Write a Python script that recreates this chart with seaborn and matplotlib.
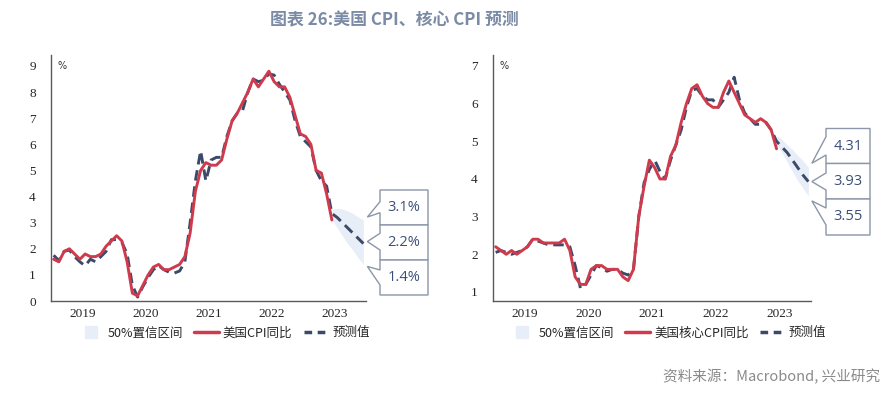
import numpy as np
import pandas as pd
import matplotlib
matplotlib.use("Agg")
import matplotlib.pyplot as plt
import seaborn as sns
from matplotlib.patches import Polygon
from matplotlib.lines import Line2D
from matplotlib.transforms import IdentityTransform

# ---------------- data (monthly, Jan 2019 ...) ----------------
cpi_actual = [1.6, 1.5, 1.9, 2.0, 1.8, 1.6, 1.8, 1.7, 1.7, 1.8, 2.1, 2.3,
              2.5, 2.3, 1.5, 0.3, 0.2, 0.6, 1.0, 1.3, 1.4, 1.2, 1.2, 1.3,
              1.4, 1.7, 2.6, 4.2, 5.0, 5.3, 5.2, 5.2, 5.4, 6.2, 6.9, 7.2,
              7.6, 8.0, 8.5, 8.2, 8.5, 8.8, 8.4, 8.2, 8.2, 7.8, 7.1, 6.4,
              6.3, 6.0, 5.0, 4.9, 4.1, 3.1]
cpi_forecast = [1.75, 1.55, 1.9, 1.95, 1.7, 1.5, 1.35, 1.6, 1.5, 1.7, 1.9, 2.35,
                2.35, 2.25, 1.8, 0.6, 0.15, 0.55, 0.9, 1.2, 1.35, 1.2, 1.1, 1.07,
                1.15, 1.5, 3.0, 4.6, 5.75, 4.6, 5.4, 5.5, 5.5, 6.3, 6.9, 7.2,
                7.3, 8.0, 8.5, 8.4, 8.45, 8.7, 8.65, 8.3, 8.0, 7.7, 6.9, 6.3,
                6.1, 5.9, 5.0, 4.6, 4.4, 3.35,
                3.2, 3.0, 2.8, 2.6, 2.4, 2.2]
cpi_band_upper = [3.5, 3.55, 3.52, 3.45, 3.35, 3.22, 3.1]   # Jun-Dec 2023
cpi_band_lower = [3.1, 2.8, 2.5, 2.2, 1.95, 1.65, 1.4]
cpi_labels = ["3.1%", "2.2%", "1.4%"]
cpi_label_vals = [3.1, 2.2, 1.4]

core_actual = [2.2, 2.1, 2.0, 2.1, 2.0, 2.1, 2.2, 2.4, 2.4, 2.3, 2.3, 2.3,
               2.3, 2.4, 2.1, 1.4, 1.2, 1.2, 1.6, 1.7, 1.7, 1.6, 1.6, 1.6,
               1.4, 1.3, 1.6, 3.0, 3.8, 4.5, 4.3, 4.0, 4.0, 4.6, 4.9, 5.5,
               6.0, 6.4, 6.5, 6.2, 6.0, 5.9, 5.9, 6.3, 6.6, 6.3, 6.0, 5.7,
               5.6, 5.5, 5.6, 5.5, 5.3, 4.8]
core_forecast = [2.05, 2.1, 2.05, 2.0, 2.05, 2.1, 2.2, 2.4, 2.35, 2.3, 2.25, 2.25,
                 2.25, 2.25, 2.2, 1.7, 1.1, 1.2, 1.45, 1.7, 1.65, 1.55, 1.6, 1.6,
                 1.5, 1.45, 1.6, 3.0, 3.9, 4.25, 4.5, 4.2, 4.0, 4.5, 4.9, 5.3,
                 5.9, 6.35, 6.4, 6.2, 6.1, 6.1, 5.9, 6.1, 6.3, 6.7, 6.1, 5.75,
                 5.6, 5.45, 5.45, 5.5, 5.3, 5.0,
                 4.85, 4.7, 4.5, 4.3, 4.1, 3.93]
core_band_upper = [5.15, 5.05, 4.9, 4.78, 4.62, 4.48, 4.31]
core_band_lower = [4.9, 4.7, 4.45, 4.2, 3.95, 3.75, 3.55]
core_labels = ["4.31", "3.93", "3.55"]
core_label_vals = [4.31, 3.93, 3.55]

year_labels = ["2019", "2020", "2021", "2022", "2023"]

# ---------------- style ----------------
sns.set_style("white")
plt.rcParams['font.family'] = ['Noto Sans CJK SC', 'DejaVu Sans']
plt.rcParams['axes.unicode_minus'] = False

RED = "#cf3b4c"
NAVY = "#3c4a6a"
BAND = "#e8eef7"
BOXEDGE = "#8c96a8"
BOXTEXT = "#3a4f78"
SPINE = "#5a5a5a"

W, H = 892, 393
fig = plt.figure(figsize=(W / 100, H / 100), dpi=100)


def month_pos(n):
    periods = pd.period_range("2019-01", periods=n, freq="M")
    return periods.year + (periods.month - 0.5) / 12.0


def px_axes(x0, y0, x1, y1):
    return fig.add_axes([x0 / W, 1 - y1 / H, (x1 - x0) / W, (y1 - y0) / H])


def draw_panel(ax, actual, forecast, up, lo, ylim, yticks, actual_label):
    xa = month_pos(len(actual))
    xf = month_pos(len(forecast))
    xb = xf[len(forecast) - len(up):]
    df_a = pd.DataFrame({"x": xa, "v": actual})
    df_f = pd.DataFrame({"x": xf, "v": forecast})
    ax.fill_between(xb, lo, up, color=BAND, lw=0, zorder=1)
    sns.lineplot(data=df_f, x="x", y="v", ax=ax, color=NAVY, lw=2.1,
                 dashes=False, zorder=2).lines[-1].set_dashes((3.6, 2.0))
    sns.lineplot(data=df_a, x="x", y="v", ax=ax, color=RED, lw=2.1, zorder=3)
    ax.set_xlim(2019, 2024)
    ax.set_ylim(*ylim)
    ax.set_yticks(yticks)
    ax.set_yticklabels([str(t) for t in yticks], family="Liberation Serif", fontsize=9.5)
    ax.set_xticks(np.arange(2019, 2025))
    ax.set_xticklabels([])
    ax.set_xticks(np.arange(2019, 2024) + 0.5, minor=True)
    ax.set_xticklabels(year_labels, minor=True, family="Liberation Serif", fontsize=9.5)
    ax.tick_params(axis="x", which="major", direction="out", length=5, width=1, color=SPINE)
    ax.tick_params(axis="x", which="minor", length=0, pad=5)
    ax.tick_params(axis="y", direction="out", length=3, width=1, color=SPINE, pad=8)
    ax.set_xlabel("")
    ax.set_ylabel("")
    for s in ["top", "right"]:
        ax.spines[s].set_visible(False)
    for s in ["left", "bottom"]:
        ax.spines[s].set_color(SPINE)
        ax.spines[s].set_linewidth(1)
    ax.text(0.022, 0.955, "%", transform=ax.transAxes, fontsize=7, va="center",
            ha="left", family="DejaVu Sans", color="#333333")
    handles = [Line2D([], [], marker="s", markersize=9, color=BAND, linestyle="none"),
               Line2D([], [], color=RED, lw=2.5),
               Line2D([], [], color=NAVY, lw=2.5, dashes=(2.2, 1.6))]
    ax.legend(handles, ["50%置信区间", actual_label, "预测值"], ncol=3, frameon=False,
              loc="center", bbox_to_anchor=(0.55, -0.13),
              handlelength=2.0, handletextpad=0.3, columnspacing=0.9,
              prop={"family": ["Noto Sans CJK SC", "DejaVu Sans"], "size": 9})
    return xf[-1]


def callouts(ax, x_end, vals, labels, L, R, boxes, offsets):
    for val, lab, (T, B, a, b), (dx, dy) in zip(vals, labels, boxes, offsets):
        dxp, dyp = ax.transData.transform((x_end, val))
        tip = (dxp + dx, dyp - dy)
        pts = [(L, T), (R, T), (R, B), (L, B), (L, b)]
        pts = [(px, H - py) for px, py in pts]
        pts += [tip, (L, H - a), (L, H - T)]
        fig.add_artist(Polygon(pts, closed=True, facecolor="white", edgecolor=BOXEDGE,
                               lw=1.0, transform=IdentityTransform(), zorder=5))
        fig.text((L + R) / 2 / W, 1 - (T + B) / 2 / H, lab, ha="center", va="center",
                 fontsize=10.5, color=BOXTEXT, family="Open Sans", zorder=6)


ax1 = px_axes(51, 55, 366, 301)
ax2 = px_axes(493, 55, 811, 301)

xe1 = draw_panel(ax1, cpi_actual, cpi_forecast, cpi_band_upper, cpi_band_lower,
                 (0, 9.42), list(range(0, 10)), "美国CPI同比")
xe2 = draw_panel(ax2, core_actual, core_forecast, core_band_upper, core_band_lower,
                 (0.76, 7.29), list(range(1, 8)), "美国核心CPI同比")

callouts(ax1, xe1, cpi_label_vals, cpi_labels, 380, 428,
         [(190, 225, 201.7, 212.7), (225, 260, 233.3, 250), (260, 295, 270, 285)],
         [(4, -3), (4, -2), (4, 2)])
callouts(ax2, xe2, core_label_vals, core_labels, 826, 870,
         [(128.5, 163.5, 136.7, 155), (163.5, 199, 173, 190), (199, 235, 208, 225)],
         [(3.5, -4), (3.5, 0), (3.5, 5)])

fig.text(394 / W, 1 - 20 / H, "图表 26:美国 CPI、核心 CPI 预测", ha="center", va="center",
         fontsize=12.2, fontweight="bold", color="#7b8ba5")
fig.text(880 / W, 1 - 377 / H, "资料来源：Macrobond, 兴业研究", ha="right", va="center",
         fontsize=10.5, color="#8a8a8a")

fig.savefig("out.png", dpi=100)
